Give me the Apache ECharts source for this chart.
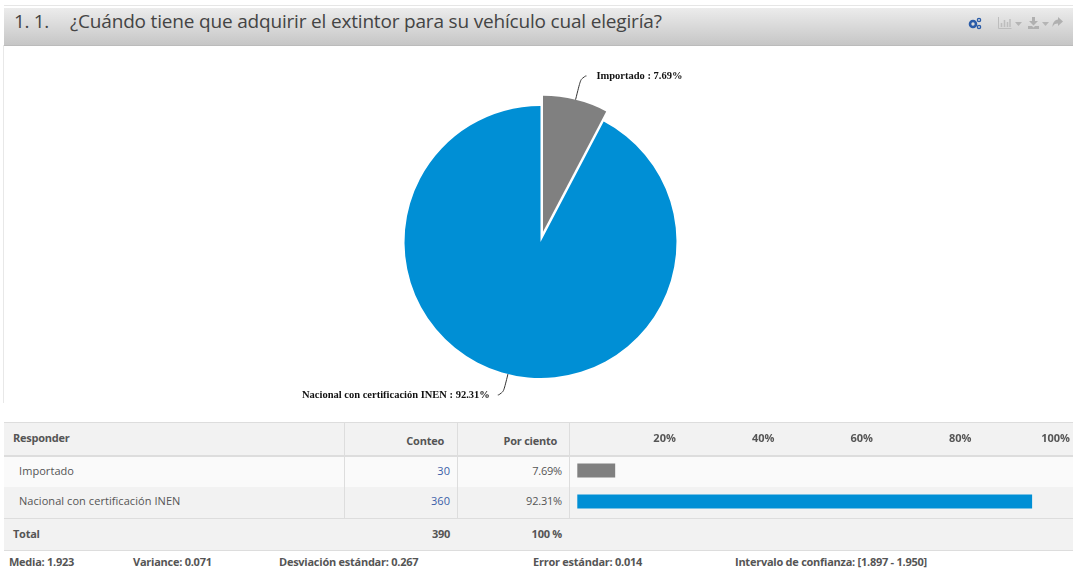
<!DOCTYPE html>
<html><head><meta charset="utf-8">
<style>
html,body{margin:0;padding:0;background:#fff;width:1073px;height:569px;overflow:hidden;font-family:"Open Sans",sans-serif;color:#555}
.a{position:absolute;white-space:nowrap}
#chart{position:absolute;left:0;top:0;width:1073px;height:569px;z-index:2}
.t{font-size:11px;line-height:14px;letter-spacing:.06px}
.b{font-weight:700;letter-spacing:-.25px}
.r{text-align:right}
.link{color:#3a5ea8}
</style></head><body>
<div class="a" style="left:4px;top:5px;width:1069px;height:1px;background:#e6e6e6"></div>
<div class="a" style="left:4px;top:8px;width:1069px;height:37px;background:linear-gradient(#ececec,#c6c6c6);border-bottom:1px solid #bbb"></div>
<div class="a" style="left:3px;top:45px;width:1px;height:358px;background:#e8e8e8"></div>
<div class="a" style="left:14px;top:8px;font-size:19px;line-height:26px;letter-spacing:-.35px;color:#444">1. 1.</div>
<div class="a" id="title" style="left:70px;top:8px;font-size:19px;line-height:26px;letter-spacing:-.18px;color:#444">¿Cuándo tiene que adquirir el extintor para su vehículo cual elegiría?</div>
<svg class="a" style="left:965px;top:14px" width="100" height="18" viewBox="0 0 100 18">
 <g fill="none" stroke="#2a5ca8"><circle cx="8" cy="10" r="3" stroke-width="2.6"/><circle cx="14" cy="6" r="1.6" stroke-width="1.4"/><circle cx="14" cy="13" r="1.6" stroke-width="1.4"/></g>
 <g stroke="#bdbdbd" fill="none"><path d="M33.5 3v11.5h13"/><path d="M36.5 13V9M39.5 13V6M42.5 13V8M45 13V5" stroke-width="1.5"/></g>
 <path d="M50 8h7l-3.5 4z" fill="#b5b5b5"/>
 <path d="M67 3h3v4h3l-4.500 4.500L64 7h3zM63 12h4l1.500 1.500L70 12h4v3H63z" fill="#b0b0b0"/>
 <path d="M77 8h7l-3.500 4z" fill="#b5b5b5"/>
 <path d="M93 3l5 4.500-5 4.500V9.500c-3 0-4.500 1-5.500 3.500 0-4 2-7 5.500-7.500z" fill="#b0b0b0"/>
</svg>
<!-- table -->
<div class="a" style="left:4px;top:422px;width:1069px;height:32px;background:#f2f2f2;border-top:1px solid #ddd;border-bottom:2px solid #ddd"></div>
<div class="a" style="left:4px;top:457px;width:1069px;height:30px;background:#fafafa"></div>
<div class="a" style="left:4px;top:487px;width:1069px;height:31px;background:#f2f2f2"></div>
<div class="a" style="left:4px;top:518px;width:1069px;height:31px;background:#f2f2f2;border-top:1px solid #ddd;border-bottom:1px solid #ddd"></div>
<div class="a" style="left:344px;top:423px;width:1px;height:95px;background:#ddd"></div>
<div class="a" style="left:457px;top:423px;width:1px;height:95px;background:#ddd"></div>
<div class="a" style="left:569px;top:423px;width:1px;height:95px;background:#ddd"></div>
<div class="a t b" style="left:13px;top:431px">Responder</div>
<div class="a t b r" style="right:629px;top:434px">Conteo</div>
<div class="a t b r" style="right:516px;top:434px">Por ciento</div>
<div class="a t" style="left:19px;top:464px">Importado</div>
<div class="a t" style="left:19px;top:494px">Nacional con certificación INEN</div>
<div class="a t r link" style="right:623px;top:464px">30</div>
<div class="a t r link" style="right:623px;top:494px">360</div>
<div class="a t r" style="right:511px;top:464px;letter-spacing:-.2px">7.69%</div>
<div class="a t r" style="right:511px;top:494px;letter-spacing:-.2px">92.31%</div>
<div class="a t b" style="left:13px;top:527px">Total</div>
<div class="a t b r" style="right:623px;top:527px">390</div>
<div class="a t b r" style="right:511px;top:527px">100 %</div>
<div class="a t b" style="left:9px;top:555px">Media: 1.923</div>
<div class="a t b" style="left:133px;top:555px">Variance: 0.071</div>
<div class="a t b" style="left:279px;top:555px">Desviación estándar: 0.267</div>
<div class="a t b" style="left:533px;top:555px">Error estándar: 0.014</div>
<div class="a t b" style="left:735px;top:555px">Intervalo de confianza: [1.897 - 1.950]</div>
<div id="chart"></div>
<script src="https://cdn.jsdelivr.net/npm/echarts@6/dist/echarts.min.js"></script>
<script>
const categories = ["Importado", "Nacional con certificación INEN"];
const counts = [30, 360];
const percents = [7.69, 92.31];
const colors = ["#808080", "#008fd5"];
const axisTicks = [0, 20, 40, 60, 80, 100];
const lineLengths = [24.5, 21.5];
const lineGaps = [10, 8];

const chart = echarts.init(document.getElementById('chart'), null, {renderer:'canvas'});
chart.setOption({
  animation:false,
  backgroundColor:'transparent',
  grid:{left:577.3, top:455, width:493, height:62},
  xAxis:{type:'value', position:'top', min:axisTicks[0], max:axisTicks[axisTicks.length-1], interval:20,
    axisLine:{show:false}, axisTick:{show:false}, splitLine:{show:false},
    axisLabel:{show:true, align:'right', margin:11, color:'#555', fontSize:11, fontWeight:700, fontFamily:'"Open Sans",sans-serif',
      formatter:v=>v===0?'':v+'%'}},
  yAxis:{type:'category', inverse:true, data:categories, show:false},
  series:[
   {type:'pie', center:[540.5,242], radius:136, startAngle:90, clockwise:true,
    selectedMode:'single', selectedOffset:10.5, avoidLabelOverlap:false, silent:true,
    itemStyle:{borderWidth:0},
    label:{show:true, position:'outside', color:'#111', fontSize:10.5, fontWeight:'bold',
      fontFamily:'"Liberation Serif",serif',
      formatter:p=>p.name+' : '+percents[p.dataIndex].toFixed(2)+'%'},
    labelLine:{show:true, smooth:0.8, length2:5, lineStyle:{color:'#333', width:1}},
    data:categories.map((n,i)=>({name:n, value:counts[i], selected:i===0, itemStyle:{color:colors[i]},
      label:{distanceToLabelLine:lineGaps[i]}, labelLine:{length:lineLengths[i]}}))
   },
   {type:'bar', barWidth:14, silent:true,
    data:percents.map((v,i)=>({value:v, itemStyle:{color:colors[i]}}))}
  ]
});
</script>
</body></html>
